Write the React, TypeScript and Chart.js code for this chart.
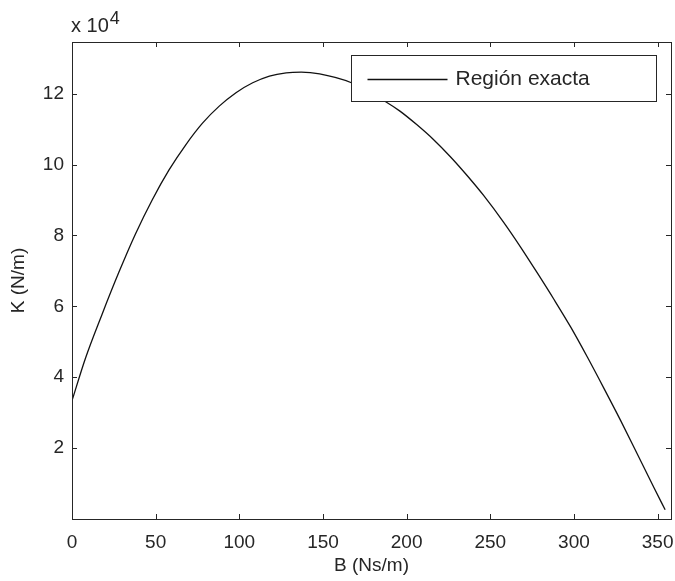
import React, { useEffect, useRef } from "react";
import { Chart, registerables } from "chart.js";

Chart.register(...registerables);

// Damping B (Ns/m) and stiffness K (N/m)
const B_VALUES = [0, 8, 18, 28, 38, 48, 58, 68, 78, 88, 98, 108, 118, 128, 137, 148, 167, 187, 196, 206, 216, 226, 236, 246, 258, 268, 278, 288, 298, 308, 318, 328, 338, 348, 354.5];
const K_VALUES = [33400, 45300, 57800, 69600, 80500, 90100, 98500, 105600, 111700, 116500, 120300, 123100, 125000, 125900, 126100, 125600, 123100, 117900, 115100, 111300, 107100, 102300, 97000, 91300, 83700, 76800, 69500, 62000, 54200, 45700, 36800, 27700, 18200, 8700, 2600];

const X_TICKS = [0, 50, 100, 150, 200, 250, 300, 350];
const Y_TICKS = [20000, 40000, 60000, 80000, 100000, 120000];
const X_MIN = 0;
const X_MAX = 358;
const Y_MIN = 0;
const Y_MAX = 134600;
const Y_EXP = 4;

const SERIES_LABEL = "Región exacta";
const X_TITLE = "B (Ns/m)";
const Y_TITLE = "K (N/m)";

const FONT = '"Liberation Sans", Arial, Helvetica, sans-serif';
const INK = "#262626";

const matlabFrame = {
  id: "matlabFrame",
  afterDatasetsDraw(chart: any) {
    const { ctx, chartArea: a, scales } = chart;
    const xs = scales.x;
    const ys = scales.y;
    const L = 5;
    ctx.save();
    ctx.strokeStyle = INK;
    ctx.lineWidth = 1;
    ctx.beginPath();
    X_TICKS.forEach((v) => {
      const px = Math.round(xs.getPixelForValue(v)) + 0.5;
      ctx.moveTo(px, a.bottom);
      ctx.lineTo(px, a.bottom - L);
      ctx.moveTo(px, a.top);
      ctx.lineTo(px, a.top + L);
    });
    Y_TICKS.forEach((v) => {
      const py = Math.round(ys.getPixelForValue(v)) + 0.5;
      ctx.moveTo(a.left, py);
      ctx.lineTo(a.left + L, py);
      ctx.moveTo(a.right, py);
      ctx.lineTo(a.right - L, py);
    });
    ctx.stroke();
    ctx.strokeRect(Math.round(a.left) + 0.5, Math.round(a.top) + 0.5, Math.round(a.right - a.left), Math.round(a.bottom - a.top));

    // exponent label
    ctx.fillStyle = INK;
    ctx.textBaseline = "alphabetic";
    ctx.textAlign = "left";
    ctx.font = `20px ${FONT}`;
    const base = "x 10";
    ctx.fillText(base, a.left - 1, a.top - 10);
    const w = ctx.measureText(base).width;
    ctx.font = `18px ${FONT}`;
    ctx.fillText(String(Y_EXP), a.left - 1 + w + 1, a.top - 18);

    // legend box
    const bw = 305;
    const bh = 46;
    const bx = Math.round(a.right - 15 - bw) + 0.5;
    const by = Math.round(a.top + 13) + 0.5;
    ctx.fillStyle = "#ffffff";
    ctx.fillRect(bx, by, bw, bh);
    ctx.strokeStyle = INK;
    ctx.lineWidth = 1;
    ctx.strokeRect(bx, by, bw, bh);
    const ly = Math.round(by + bh / 2) + 0.5;
    ctx.strokeStyle = "#111111";
    ctx.lineWidth = 1.3;
    ctx.beginPath();
    ctx.moveTo(bx + 16, ly);
    ctx.lineTo(bx + 96, ly);
    ctx.stroke();
    ctx.fillStyle = INK;
    ctx.font = `21px ${FONT}`;
    ctx.textBaseline = "middle";
    ctx.fillText(chart.data.datasets[0].label, bx + 104, ly);
    ctx.restore();
  },
};

export default function App() {
  const canvasRef = useRef<HTMLCanvasElement | null>(null);

  useEffect(() => {
    const canvas = canvasRef.current;
    if (!canvas) return;
    const points = B_VALUES.map((b, i) => ({ x: b, y: K_VALUES[i] }));
    const chart = new Chart(canvas, {
      type: "line",
      data: {
        datasets: [
          {
            label: SERIES_LABEL,
            data: points,
            borderColor: "#111111",
            borderWidth: 1.3,
            pointRadius: 0,
            fill: false,
            cubicInterpolationMode: "monotone",
          },
        ],
      },
      options: {
        animation: false,
        responsive: true,
        maintainAspectRatio: false,
        layout: { padding: { top: 42, right: 4, left: 0, bottom: 0 } },
        plugins: {
          legend: { display: false },
          tooltip: { enabled: false },
        },
        scales: {
          x: {
            type: "linear",
            min: X_MIN,
            max: X_MAX,
            grid: { display: false, drawTicks: false },
            border: { display: false },
            afterBuildTicks: (scale: any) => {
              scale.ticks = X_TICKS.map((v) => ({ value: v }));
            },
            afterFit: (scale: any) => {
              scale.height = 62;
              scale.paddingLeft = 0;
              scale.paddingRight = 0;
            },
            ticks: {
              color: INK,
              font: { family: FONT, size: 19 },
              padding: 12,
              maxRotation: 0,
              autoSkip: false,
              callback: (v: any) => String(v),
            },
            title: {
              display: true,
              text: X_TITLE,
              color: INK,
              font: { family: FONT, size: 19 },
              padding: { top: 0, bottom: 4 },
            },
          },
          y: {
            type: "linear",
            min: Y_MIN,
            max: Y_MAX,
            grid: { display: false, drawTicks: false },
            border: { display: false },
            afterBuildTicks: (scale: any) => {
              scale.ticks = Y_TICKS.map((v) => ({ value: v }));
            },
            afterFit: (scale: any) => {
              scale.width = 72;
              scale.paddingTop = 0;
              scale.paddingBottom = 0;
            },
            ticks: {
              color: INK,
              font: { family: FONT, size: 19 },
              padding: 8,
              autoSkip: false,
              callback: (v: any) => String(Number(v) / Math.pow(10, Y_EXP)),
            },
            title: {
              display: true,
              text: Y_TITLE,
              color: INK,
              font: { family: FONT, size: 19 },
              padding: { top: 7, bottom: 0 },
            },
          },
        },
      },
      plugins: [matlabFrame],
    } as any);
    return () => chart.destroy();
  }, []);

  return (
    <div style={{ position: "absolute", left: 0, top: 0, width: 675, height: 581, background: "#ffffff" }}>
      <canvas ref={canvasRef} />
    </div>
  );
}
